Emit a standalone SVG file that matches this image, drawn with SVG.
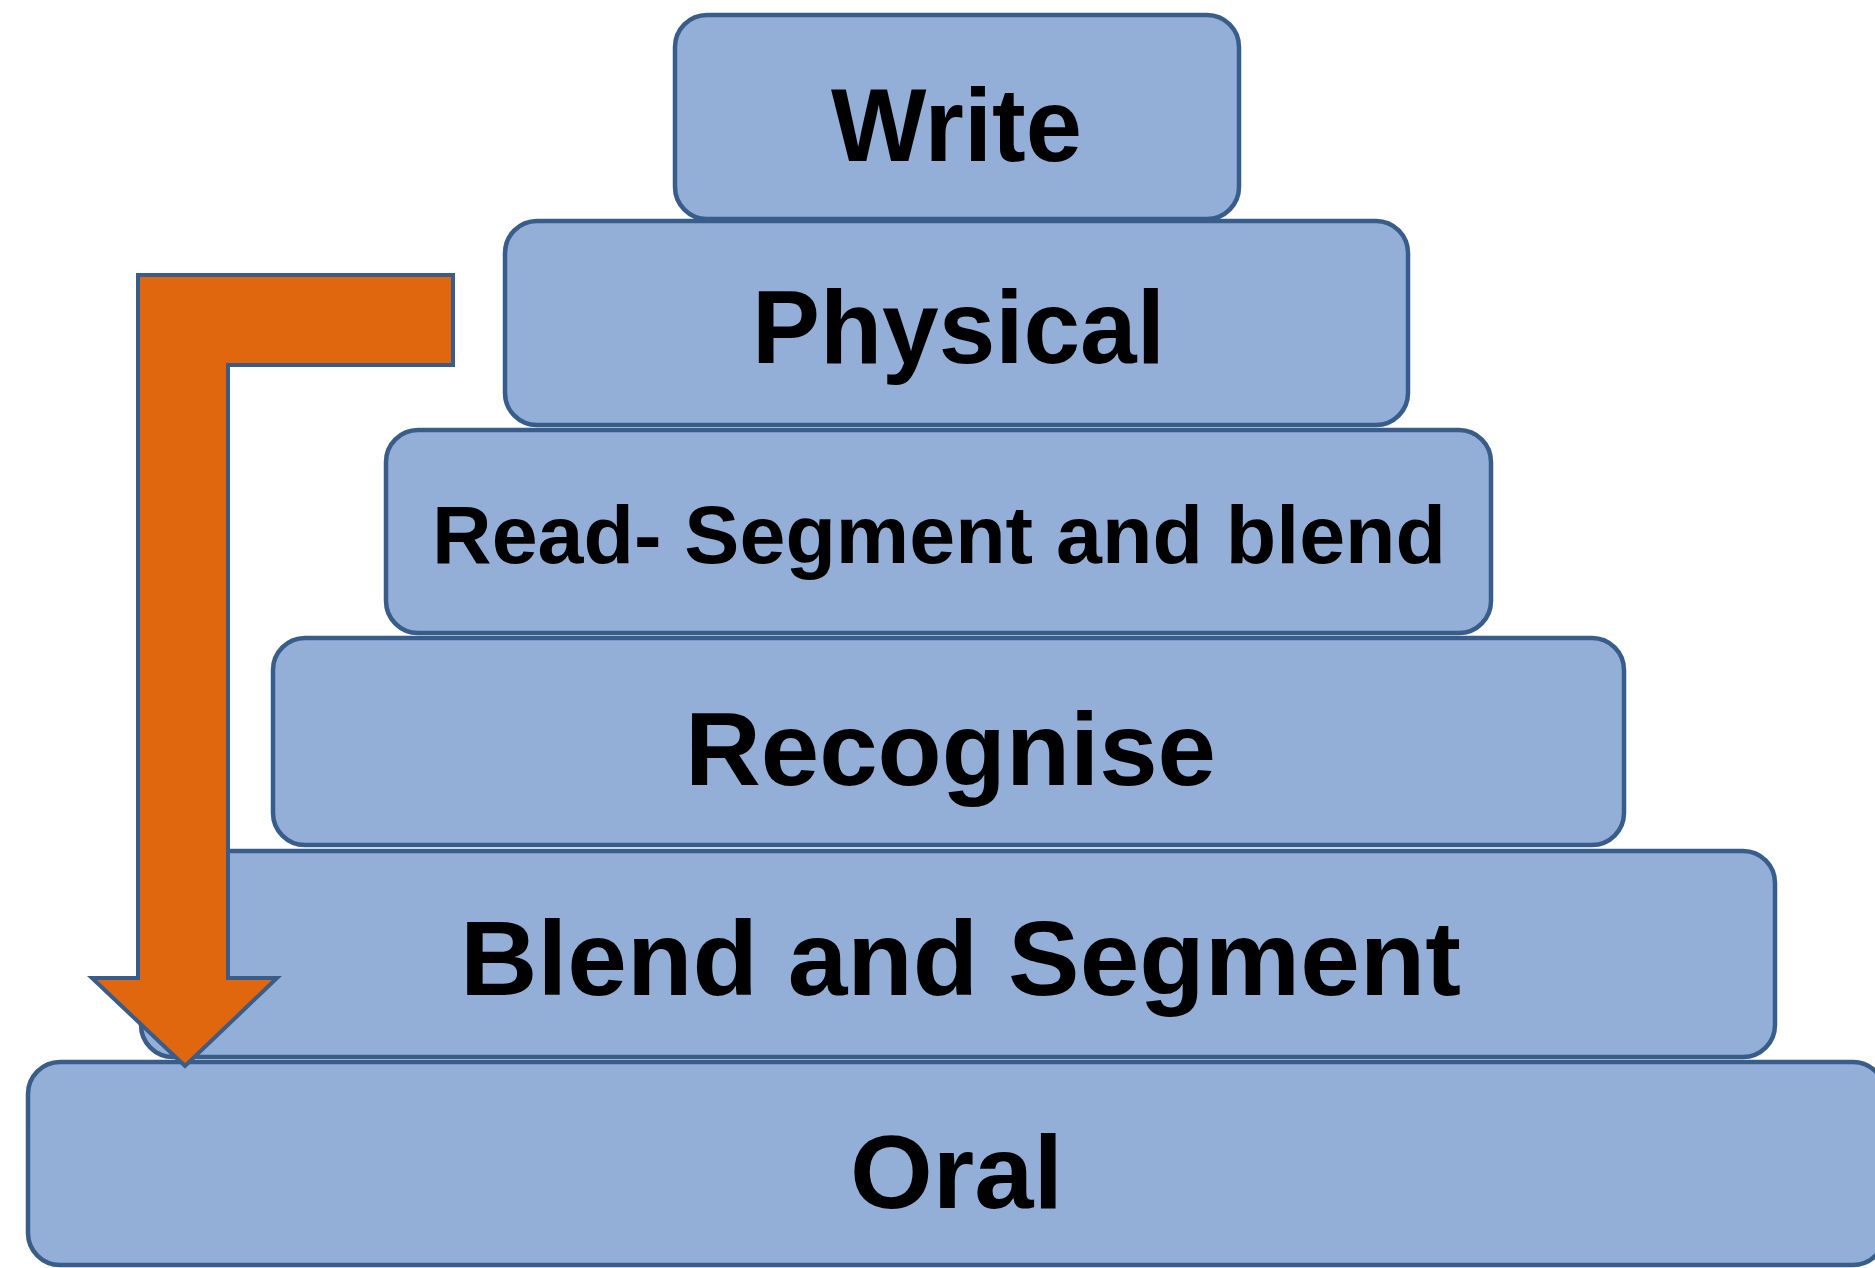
<svg xmlns="http://www.w3.org/2000/svg" width="1875" height="1268" viewBox="0 0 1875 1268">
  <style>
    .box { fill: #93AFD7; stroke: #395D8B; stroke-width: 4.5; }
    .lbl { font-family: "Liberation Sans", Arial, sans-serif; font-weight: bold; fill: #000000; text-anchor: middle; }
    .arrow { fill: #E0670D; stroke: #395D8B; stroke-width: 4; stroke-linejoin: miter; }
  </style>
  <rect x="0" y="0" width="1875" height="1268" fill="#FFFFFF"/>
  <g id="node-write">
    <rect class="box" x="675" y="15" width="564" height="204" rx="32" ry="32"/>
    <text class="lbl" x="956.5" y="161" font-size="103" textLength="251" lengthAdjust="spacingAndGlyphs">Write</text>
  </g>
  <g id="node-physical">
    <rect class="box" x="505" y="221" width="903" height="204" rx="32" ry="32"/>
    <text class="lbl" x="958.5" y="363" font-size="103" textLength="413" lengthAdjust="spacingAndGlyphs">Physical</text>
  </g>
  <g id="node-read">
    <rect class="box" x="386" y="430" width="1105" height="203" rx="32" ry="32"/>
    <text class="lbl" x="939" y="563" font-size="81" textLength="1014" lengthAdjust="spacingAndGlyphs">Read- Segment and blend</text>
  </g>
  <g id="node-recognise">
    <rect class="box" x="273" y="638" width="1351" height="207" rx="32" ry="32"/>
    <text class="lbl" x="950.5" y="785" font-size="103" textLength="531" lengthAdjust="spacingAndGlyphs">Recognise</text>
  </g>
  <g id="node-blend">
    <rect class="box" x="141" y="851" width="1634" height="206" rx="32" ry="32"/>
    <text class="lbl" x="960.5" y="995" font-size="105" textLength="1001" lengthAdjust="spacingAndGlyphs">Blend and Segment</text>
  </g>
  <g id="node-oral">
    <rect class="box" x="28" y="1062" width="1857" height="203" rx="32" ry="32"/>
    <text class="lbl" x="956.5" y="1208" font-size="103" textLength="213" lengthAdjust="spacingAndGlyphs">Oral</text>
  </g>
  <g id="connectors">
    <path class="arrow" d="M138,275 L453,275 L453,365 L228,365 L228,978 L277,978 L185,1066 L92,978 L138,978 Z"/>
  </g>
</svg>
